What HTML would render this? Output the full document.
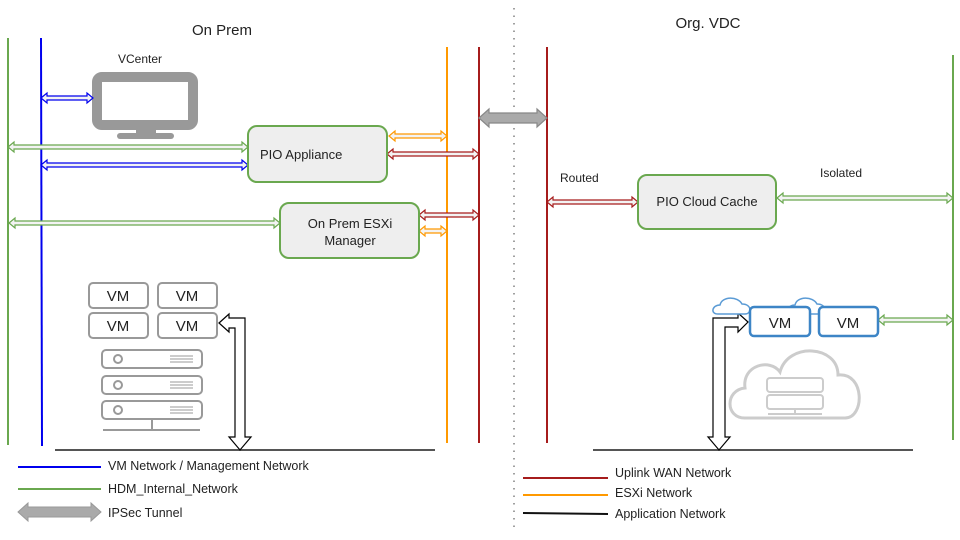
<!DOCTYPE html>
<html><head><meta charset="utf-8"><style>html,body{margin:0;padding:0;background:#fff}svg{display:block}text{font-family:"Liberation Sans",Arial,sans-serif;fill:#222}</style></head>
<body>
<svg width="960" height="540" viewBox="0 0 960 540" xmlns="http://www.w3.org/2000/svg">
<!-- divider -->
<line x1="514" y1="8" x2="514" y2="530" stroke="#888" stroke-width="1.6" stroke-dasharray="1.5 6"/>
<text x="222" y="35" font-size="15" text-anchor="middle">On Prem</text>
<text x="708" y="28" font-size="15" text-anchor="middle">Org. VDC</text>
<!-- vertical networks -->
<line x1="8" y1="38" x2="8" y2="445" stroke="#6aa84f" stroke-width="2"/>
<line x1="41" y1="38" x2="42" y2="446" stroke="#0000ee" stroke-width="2"/>
<line x1="447" y1="47" x2="447" y2="443" stroke="#ff9900" stroke-width="2"/>
<line x1="479" y1="47" x2="479" y2="443" stroke="#a61c1c" stroke-width="2"/>
<line x1="547" y1="47" x2="547" y2="443" stroke="#a61c1c" stroke-width="2"/>
<line x1="953" y1="55" x2="953" y2="440" stroke="#6aa84f" stroke-width="2"/>
<!-- app networks -->
<line x1="55" y1="450" x2="435" y2="450" stroke="#555" stroke-width="2"/>
<line x1="593" y1="450" x2="913" y2="450" stroke="#555" stroke-width="2"/>
<!-- VCenter -->
<text x="140" y="63" font-size="12" text-anchor="middle">VCenter</text>
<rect x="97" y="77" width="96" height="48" rx="5" fill="none" stroke="#999" stroke-width="10"/>
<rect x="136" y="128" width="20" height="8" fill="#999"/>
<rect x="117" y="133" width="57" height="6" rx="3" fill="#999"/>
<!-- arrows -->
<g stroke-width="1.2" fill="#f3f3f3">
<polygon stroke="#0000ee" points="41,98 47,93 47,96 87,96 87,93 93,98 87,103 87,100 47,100 47,103"/>
<polygon stroke="#6aa84f" points="8,147 14,142 14,145 242,145 242,142 248,147 242,152 242,149 14,149 14,152"/>
<polygon stroke="#0000ee" points="41,165 47,160 47,163 242,163 242,160 248,165 242,170 242,167 47,167 47,170"/>
<polygon stroke="#ff9900" points="389,136 395,131 395,134 441,134 441,131 447,136 441,141 441,138 395,138 395,141"/>
<polygon stroke="#a61c1c" points="387,154 393,149 393,152 473,152 473,149 479,154 473,159 473,156 393,156 393,159"/>
<polygon stroke="#6aa84f" points="9,223 15,218 15,221 274,221 274,218 280,223 274,228 274,225 15,225 15,228"/>
<polygon stroke="#a61c1c" points="419,215 425,210 425,213 473,213 473,210 479,215 473,220 473,217 425,217 425,220"/>
<polygon stroke="#ff9900" points="419,231 425,226 425,229 441,229 441,226 447,231 441,236 441,233 425,233 425,236"/>
<polygon stroke="#a61c1c" points="547,202 553,197 553,200 632,200 632,197 638,202 632,207 632,204 553,204 553,207"/>
<polygon stroke="#6aa84f" points="777,198 783,193 783,196 947,196 947,193 953,198 947,203 947,200 783,200 783,203"/>
<polygon stroke="#6aa84f" points="878,320 884,315 884,318 947,318 947,315 953,320 947,325 947,322 884,322 884,325"/>
<polygon stroke="#888" fill="#aaa" points="479,118 489,109 489,113 537,113 537,109 547,118 537,127 537,123 489,123 489,127"/>
<polygon stroke="#000" fill="#fff" points="219,323 229,314 229,318 245,318 245,437 251,437 240,450 229,437 235,437 235,328 229,328 229,332"/>
<polygon stroke="#000" fill="#fff" points="748,322 738,313 738,318 713,318 713,437 708,437 719,450 730,437 725,437 725,327 738,327 738,332"/>
</g>
<!-- boxes -->
<rect x="248" y="126" width="139" height="56" rx="9" fill="#eee" stroke="#6aa84f" stroke-width="2"/>
<text x="260" y="159" font-size="13">PIO Appliance</text>
<rect x="280" y="203" width="139" height="55" rx="9" fill="#eee" stroke="#6aa84f" stroke-width="2"/>
<text x="350" y="228" font-size="13" text-anchor="middle">On Prem ESXi</text>
<text x="350" y="245" font-size="13" text-anchor="middle">Manager</text>
<rect x="638" y="175" width="138" height="54" rx="9" fill="#eee" stroke="#6aa84f" stroke-width="2"/>
<text x="707" y="206" font-size="13" text-anchor="middle">PIO Cloud Cache</text>
<text x="560" y="182" font-size="12">Routed</text>
<text x="820" y="177" font-size="12">Isolated</text>
<!-- on prem VMs -->
<g fill="#fff" stroke="#999" stroke-width="2">
<rect x="89" y="283" width="59" height="25" rx="4"/><rect x="158" y="283" width="59" height="25" rx="4"/>
<rect x="89" y="313" width="59" height="25" rx="4"/><rect x="158" y="313" width="59" height="25" rx="4"/>
<rect x="102" y="350" width="100" height="18" rx="4"/><rect x="102" y="376" width="100" height="18" rx="4"/><rect x="102" y="401" width="100" height="18" rx="4"/>
<circle cx="118" cy="359" r="4"/><circle cx="118" cy="385" r="4"/><circle cx="118" cy="410" r="4"/>
<line x1="152" y1="420" x2="152" y2="430"/><line x1="103" y1="430" x2="200" y2="430"/>
</g>
<g stroke="#999" stroke-width="1">
<line x1="170" y1="356" x2="193" y2="356"/><line x1="170" y1="359" x2="193" y2="359"/><line x1="170" y1="362" x2="193" y2="362"/>
<line x1="170" y1="382" x2="193" y2="382"/><line x1="170" y1="385" x2="193" y2="385"/><line x1="170" y1="388" x2="193" y2="388"/>
<line x1="170" y1="407" x2="193" y2="407"/><line x1="170" y1="410" x2="193" y2="410"/><line x1="170" y1="413" x2="193" y2="413"/>
</g>
<g font-size="15" text-anchor="middle"><text x="118" y="301">VM</text><text x="187" y="301">VM</text><text x="118" y="331">VM</text><text x="187" y="331">VM</text></g>
<!-- cloud -->
<path d="M745,418 C725,418 725,390 745,388 C742,365 770,358 780,372 C788,342 838,345 838,375 C865,372 865,418 845,418 Z" fill="none" stroke="#ccc" stroke-width="3"/>
<g fill="none" stroke="#ccc" stroke-width="2"><rect x="767" y="378" width="56" height="14" rx="3"/><rect x="767" y="395" width="56" height="14" rx="3"/><line x1="795" y1="409" x2="795" y2="414"/><line x1="768" y1="414" x2="822" y2="414"/></g>
<path d="M718,314 C710,314 712,305 720,305 C722,296 738,296 742,304 C752,304 752,314 745,314 Z" fill="#fff" stroke="#5b9bd5" stroke-width="1.5"/>
<path d="M793,314 C785,314 787,305 795,305 C797,296 813,296 817,304 C827,304 827,314 820,314 Z" fill="#fff" stroke="#5b9bd5" stroke-width="1.5"/>
<rect x="750" y="307" width="60" height="29" rx="4" fill="#fff" stroke="#3d85c6" stroke-width="2.5"/>
<rect x="819" y="307" width="59" height="29" rx="4" fill="#fff" stroke="#3d85c6" stroke-width="2.5"/>
<g font-size="15" text-anchor="middle"><text x="780" y="328">VM</text><text x="848" y="328">VM</text></g>
<!-- legend -->
<line x1="18" y1="467" x2="101" y2="467" stroke="#0000ee" stroke-width="2"/>
<text x="108" y="470" font-size="12.5">VM Network / Management Network</text>
<line x1="18" y1="489" x2="101" y2="489" stroke="#6aa84f" stroke-width="2"/>
<text x="108" y="493" font-size="12.5">HDM_Internal_Network</text>
<polygon points="18,512 28,503 28,507 91,507 91,503 101,512 91,521 91,517 28,517 28,521" fill="#aaa" stroke="#999"/>
<text x="108" y="517" font-size="12.5">IPSec Tunnel</text>
<line x1="523" y1="478" x2="608" y2="478" stroke="#a61c1c" stroke-width="2"/>
<text x="615" y="477" font-size="12.5">Uplink WAN Network</text>
<line x1="523" y1="495" x2="608" y2="495" stroke="#ff9900" stroke-width="2"/>
<text x="615" y="497" font-size="12.5">ESXi Network</text>
<line x1="523" y1="513" x2="608" y2="514" stroke="#111" stroke-width="2"/>
<text x="615" y="518" font-size="12.5">Application Network</text>
</svg>
</body></html>
